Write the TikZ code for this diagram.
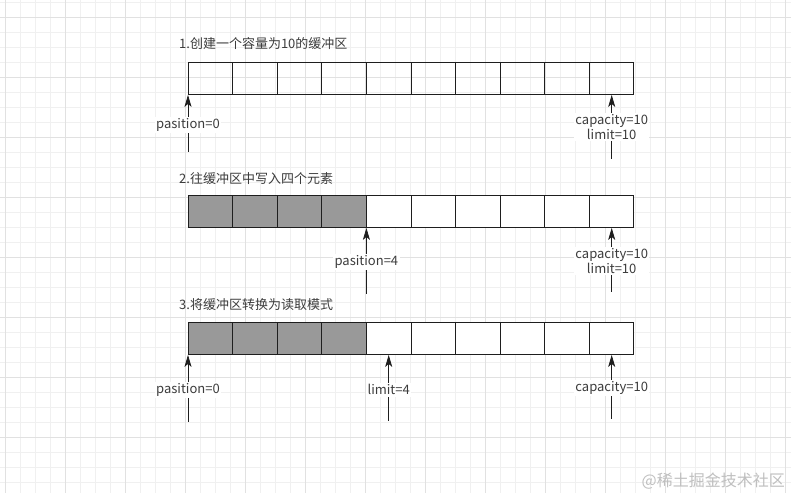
\documentclass[tikz,border=0pt]{standalone}
\usepackage{fontspec}
\setmainfont{Noto Sans CJK SC}
\usepackage{tikz}
\usetikzlibrary{shapes.multipart,positioning}
\usetikzlibrary{arrows.meta}
\definecolor{cellgray}{RGB}{153,153,153}
\definecolor{gridminor}{RGB}{240,240,240}
\definecolor{gridmajor}{RGB}{225,225,225}
\definecolor{ink}{RGB}{30,30,30}
\definecolor{txt}{RGB}{60,60,60}
\newcommand\tencells{\nodepart{one}\strut\nodepart{two}\strut\nodepart{three}\strut
  \nodepart{four}\strut\nodepart{five}\strut\nodepart{six}\strut\nodepart{seven}\strut
  \nodepart{eight}\strut\nodepart{nine}\strut\nodepart{ten}\strut}

\begin{document}
\begin{tikzpicture}[x=1pt,y=-1pt,
    every node/.append style={font=\fontsize{13}{15}\selectfont, text=txt},
    buffer/.style={draw=ink, line width=0.9pt, anchor=north west,
      rectangle split, rectangle split horizontal, rectangle split parts=10,
      text width=43.7pt, text height=16pt, text depth=16pt, inner sep=0pt},
    tag/.style={fill=white, inner sep=1.5pt, align=center},
    title/.style={anchor=west, inner sep=0pt},
    ptr/.style={draw=ink, line width=0.8pt, -{Stealth[length=12pt, width=7pt, inset=3pt]}}]
  % background grid
  \useasboundingbox (0,0) rectangle (791,493);
  \fill[white] (0,0) rectangle (791,493);
  \foreach \x in {5,20,...,790} \draw[gridminor, line width=0.8pt] (\x,0) -- (\x,493);
  \foreach \y in {2,17,...,492} \draw[gridminor, line width=0.8pt] (0,\y) -- (791,\y);
  \foreach \x in {5,65,...,790} \draw[gridmajor, line width=0.8pt] (\x,0) -- (\x,493);
  \foreach \y in {17,77,...,492} \draw[gridmajor, line width=0.8pt] (0,\y) -- (791,\y);

  % 1. new buffer
  \node (t1) [title] at (179,44) {1.创建一个容量为10的缓冲区};
  \node (buf1) [buffer] at (188,62) {\tencells};
  \node (pos1) [tag, below=30pt of buf1.south west, anchor=center] {pasition=0};
  \node (cap1) [tag, below=32pt of buf1.ten south, anchor=center] {capacity=10\\limit=10};
  \coordinate [below=57pt of buf1.south west] (pos1end);
  \coordinate [below=64pt of buf1.ten south] (cap1end);
  \draw[ptr] (pos1) -- (buf1.south west);
  \draw[ink, line width=0.8pt] (pos1end) -- (pos1);
  \draw[ptr] (cap1) -- (buf1.ten south);
  \draw[ink, line width=0.8pt] (cap1end) -- (cap1);

  % 2. write four elements
  \node (t2) [title] at (179,179) {2.往缓冲区中写入四个元素};
  \node (buf2) [buffer, rectangle split part fill={cellgray,cellgray,cellgray,cellgray,white}]
    at (188,195) {\tencells};
  \node (pos2) [tag, below=34pt of buf2.four split south, anchor=center] {pasition=4};
  \node (cap2) [tag, below=33pt of buf2.ten south, anchor=center] {capacity=10\\limit=10};
  \coordinate [below=66pt of buf2.four split south] (pos2end);
  \coordinate [below=64pt of buf2.ten south] (cap2end);
  \draw[ptr] (pos2) -- (buf2.four split south);
  \draw[ink, line width=0.8pt] (pos2end) -- (pos2);
  \draw[ptr] (cap2) -- (buf2.ten south);
  \draw[ink, line width=0.8pt] (cap2end) -- (cap2);

  % 3. flip to read mode
  \node (t3) [title] at (179,305) {3.将缓冲区转换为读取模式};
  \node (buf3) [buffer, rectangle split part fill={cellgray,cellgray,cellgray,cellgray,white}]
    at (188,322) {\tencells};
  \node (pos3) [tag, below=35pt of buf3.south west, anchor=center] {pasition=0};
  \node (lim3) [tag, below=35pt of buf3.five south, anchor=center] {limit=4};
  \node (cap3) [tag, below=33pt of buf3.ten south, anchor=center] {capacity=10};
  \coordinate [below=67pt of buf3.south west] (pos3end);
  \coordinate [below=66pt of buf3.five south] (lim3end);
  \coordinate [below=64pt of buf3.ten south] (cap3end);
  \draw[ptr] (pos3) -- (buf3.south west);
  \draw[ink, line width=0.8pt] (pos3end) -- (pos3);
  \draw[ptr] (lim3) -- (buf3.five south);
  \draw[ink, line width=0.8pt] (lim3end) -- (lim3);
  \draw[ptr] (cap3) -- (buf3.ten south);
  \draw[ink, line width=0.8pt] (cap3end) -- (cap3);

  \node (mark) [anchor=east, inner sep=0pt, text=gray!50, font=\fontsize{16}{18}\selectfont]
    at (785,481) {@稀土掘金技术社区};
\end{tikzpicture}
\end{document}
